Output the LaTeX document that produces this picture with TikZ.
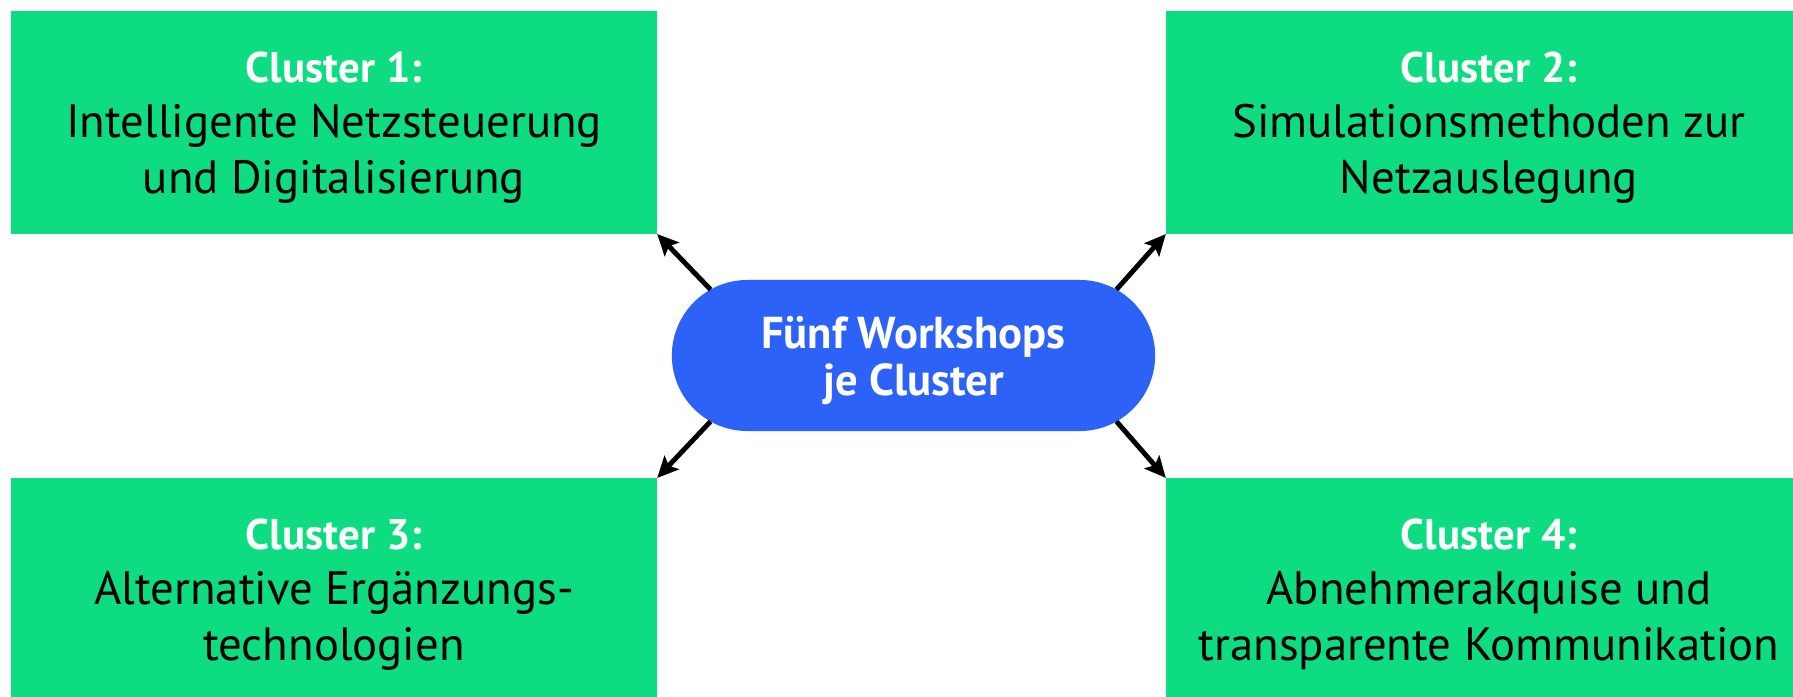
\documentclass[tikz,border=0pt]{standalone}
\usepackage{fontspec}
\setmainfont{PT Sans}
\usetikzlibrary{arrows.meta,shapes.misc}
\definecolor{clustergreen}{HTML}{0EDC80}
\definecolor{workshopblue}{HTML}{2C62F8}
\newcommand{\clustertitle}[1]{{\bfseries\fontsize{12.2}{15.7}\selectfont\color{white}#1}}

\begin{document}
\begin{tikzpicture}[x=0.01cm,y=-0.01cm,
    clusterbox/.style={fill=clustergreen,minimum width=6.46cm,minimum height=2.23cm,
        inner sep=0pt,outer sep=0pt,align=center,text depth=0pt,font=\fontsize{13.3}{15.7}\selectfont},
    workshoppill/.style={rounded rectangle,fill=workshopblue,minimum width=4.83cm,
        minimum height=1.51cm,inner sep=0pt,outer sep=0pt,align=center,text=white,text depth=0pt,
        font=\bfseries\fontsize{12.7}{13.4}\selectfont},
    clusterarrow/.style={line width=1.4pt,-{Stealth[length=6pt,width=5.6pt,inset=1.2pt]}}]
                \useasboundingbox (0,0) rectangle (1793,697);
                \clip (0,0) rectangle (1793,697);
                \node[clusterbox] (c1) at (334,122.5) {\clustertitle{Cluster 1:}\\Intelligente Netzsteuerung\\und Digitalisierung};
                \node[clusterbox] (c2) at (1489,122.5) {\clustertitle{Cluster 2:}\\Simulationsmethoden zur\\Netzauslegung};
                \node[clusterbox] (c3) at (334,589.5) {\clustertitle{Cluster 3:}\\Alternative Ergänzungs-\\technologien};
                \node[clusterbox] (c4) at (1489,589.5) {\clustertitle{Cluster 4:}\\Abnehmerakquise und\\transparente Kommunikation};
                \node[workshoppill] (pill) at (913.5,355.5) {Fünf Workshops\\je Cluster};
                \draw[clusterarrow] (pill.162) -- (c1.south east);
                \draw[clusterarrow] (pill.18) -- (c2.south west);
                \draw[clusterarrow] (pill.198) -- (c3.north east);
                \draw[clusterarrow] (pill.342) -- (c4.north west);
            \end{tikzpicture}
\end{document}
